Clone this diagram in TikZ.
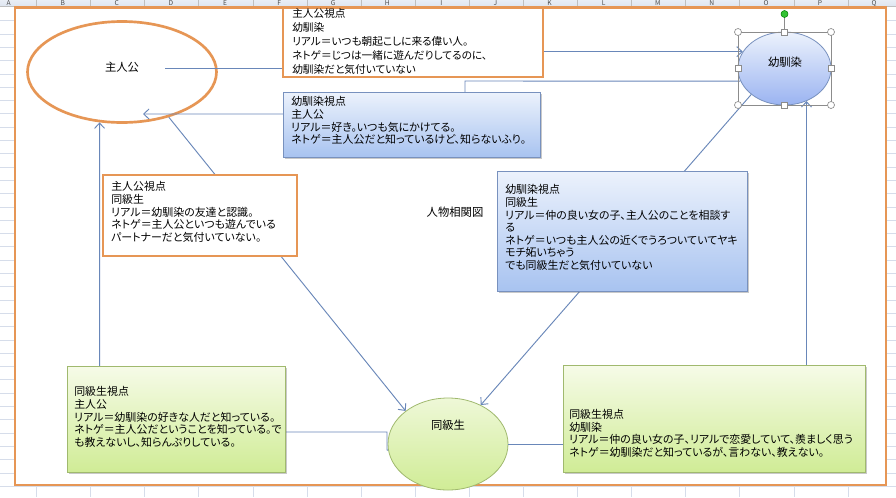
\documentclass[tikz,border=0pt]{standalone}
\usepackage{fontspec}
\setmainfont{Noto Sans CJK JP}[RawFeature=+palt]
\usetikzlibrary{arrows.meta,shadows,shapes.geometric,fit}
\pgfdeclarelayer{gridlayer}
\pgfdeclarelayer{shapelayer}
\pgfdeclarelayer{linelayer}
\pgfsetlayers{gridlayer,shapelayer,linelayer,main}
\definecolor{orng}{RGB}{230,150,85}
\definecolor{conncol}{RGB}{105,135,185}
\definecolor{bluetop}{RGB}{236,242,252}
\definecolor{bluebot}{RGB}{168,195,240}
\definecolor{blueedge}{RGB}{120,145,190}
\definecolor{greentop}{RGB}{246,251,232}
\definecolor{greenbot}{RGB}{208,236,150}
\definecolor{greenedge}{RGB}{160,185,110}
\definecolor{gridc}{RGB}{214,221,234}
\definecolor{hdrtop}{RGB}{246,248,252}
\definecolor{hdrbot}{RGB}{222,229,240}
\newcommand{\jfont}{\fontsize{8.2pt}{9.45pt}\selectfont}
\begin{document}
\begin{tikzpicture}[x=0.75pt,y=-0.75pt,
  orangebox/.style={draw=orng,line width=1.5pt,fill=white,inner sep=0pt},
  bluebox/.style={draw=blueedge,line width=0.6pt,top color=bluetop,bottom color=bluebot,inner sep=0pt,
    drop shadow={shadow xshift=1.2pt,shadow yshift=-1.2pt,opacity=0.35,fill=black!60}},
  greenbox/.style={draw=greenedge,line width=0.6pt,top color=greentop,bottom color=greenbot,inner sep=0pt,
    drop shadow={shadow xshift=1.2pt,shadow yshift=-1.2pt,opacity=0.35,fill=black!60}},
  txt/.style={anchor=north west,align=left,inner sep=0pt,font=\jfont},
  lbl/.style={inner sep=0pt,font=\fontsize{8.5pt}{10pt}\selectfont},
  conn/.style={draw=conncol,line width=0.7pt},
  arr/.style={-{Straight Barb[length=4pt,width=7.5pt]}},
  hdl/.style={draw=black!45,line width=0.5pt,fill=white},
  colhd/.style={inner sep=0pt,anchor=base,font=\fontsize{5pt}{5pt}\selectfont,text=black!70}
]
\useasboundingbox (0,0) rectangle (896,497);
\begin{pgfonlayer}{gridlayer}
  \begin{scope}
  \clip (0,0) rectangle (896,497);
  \fill[white] (0,0) rectangle (896,497);
  \foreach \y in {20.7,34.0,...,497} \draw[gridc,line width=0.5pt] (0,\y) -- (896,\y);
  \foreach \x in {36.5,90.6,...,896} \draw[gridc,line width=0.5pt] (\x,0) -- (\x,497);
  \shade[top color=hdrtop,bottom color=hdrbot] (0,-8) rectangle (896,6.5);
  \draw[black!25,line width=0.5pt] (0,6.5) -- (896,6.5);
  \foreach \x in {36.5,90.6,...,896} \draw[black!25,line width=0.5pt] (\x,-8) -- (\x,6.5);
  \foreach \l [count=\i from 0] in {A,B,C,D,E,F,G,H,I,J,K,L,M,N,O,P,Q}
    \node[colhd] (col\l) at (8.6+54.1*\i,5.6) {\l};
  \end{scope}
  \draw[orng,line width=1.6pt,fill=white] (15,7.5) rectangle (886,485);
\end{pgfonlayer}
% ellipses
\begin{pgfonlayer}{shapelayer}
  \node[ellipse,draw=orng,line width=2pt,fill=white,minimum width=141.75pt,minimum height=75.75pt,inner sep=0pt] (hero) at (122,72) {};
  \node[ellipse,draw=blueedge,line width=0.6pt,top color=bluetop,bottom color=bluebot!92!blue,minimum width=69.75pt,minimum height=54.75pt,inner sep=0pt] (osa) at (784.5,68.5) {};
  \node[ellipse,draw=greenedge,line width=0.6pt,top color=greentop!80!greenbot,bottom color=greenbot,minimum width=90pt,minimum height=69pt,inner sep=0pt] (dk) at (448,444) {};
\end{pgfonlayer}
\node[lbl] (heroT) at (122,67) {主人公};
\node[lbl] (osaT) at (785,62) {幼馴染};
\node[lbl] (dkT) at (448,425) {同級生};
\node[lbl] (title) at (455,212) {人物相関図};
% connectors
\coordinate (a0) at (165,68);
\coordinate (b0) at (143,114);
\begin{pgfonlayer}{linelayer}
  \draw[conn,arr] (a0) -- (410,68) |- (osa.158);
  \draw[conn,arr] (osa.196) -- (465,81) -- (465,114) -- (b0);
  \draw[conn,arr] (hero.-44) -- (dk.142);
  \draw[conn,arr] (dk.186) -- (387,450) -- (387,432) -| (hero.246);
  \draw[conn,arr] (osa.218) -- (dk.50);
  \draw[conn,arr] (dk.east) -| (osa.-56);
\end{pgfonlayer}
% boxes
\node[orangebox,fit={(283,8) (543,77)}] (b1) {};
\node[bluebox,fit={(283,92) (540,157)}] (b2) {};
\node[orangebox,fit={(103,175) (297,256)}] (b3) {};
\node[bluebox,fit={(497,171) (747,291)}] (b5) {};
\node[greenbox,fit={(67,366) (285,472)}] (b6) {};
\node[greenbox,fit={(563,365) (865,472)}] (b7) {};
\node[txt,font=\fontsize{8pt}{10.5pt}\selectfont] (t1) at (292,8.5) {主人公視点\\幼馴染\\リアル＝いつも朝起こしに来る偉い人。\\ネトゲ＝じつは一緒に遊んだりしてるのに、\\幼馴染だと気付いていない};
\node[txt] (t2) at (291,96.5) {幼馴染視点\\主人公\\リアル＝好き。いつも気にかけてる。\\ネトゲ＝主人公だと知っているけど、知らないふり。};
\node[txt] (t3) at (111,181.5) {主人公視点\\同級生\\リアル＝幼馴染の友達と認識。\\ネトゲ＝主人公といつも遊んでいる\\パートナーだと気付いていない。};
\node[txt] (t5) at (505,184.5) {幼馴染視点\\同級生\\リアル＝仲の良い女の子、主人公のことを相談す\\る\\ネトゲ＝いつも主人公の近くでうろついていてヤキ\\モチ妬いちゃう\\でも同級生だと気付いていない};
\node[txt] (t6) at (74,386.5) {同級生視点\\主人公\\リアル＝幼馴染の好きな人だと知っている。\\ネトゲ＝主人公だということを知っている。で\\も教えないし、知らんぷりしている。};
\node[txt] (t7) at (569,409) {同級生視点\\幼馴染\\リアル＝仲の良い女の子、リアルで恋愛していて、羨ましく思う\\ネトゲ＝幼馴染だと知っているが、言わない、教えない。};
% selection handles on 幼馴染
\draw[black!45,line width=0.5pt] (738,32) rectangle (831,105);
\draw[black!45,line width=0.5pt] (784.5,32) -- (784.5,17);
\fill[green!70!black!80,draw=green!50!black] (784.5,14) circle[radius=3.5];
\foreach \px/\py in {738/32,831/32,738/105,831/105} \draw[hdl] (\px,\py) circle[radius=3.5];
\foreach \px/\py in {784.5/32,784.5/105,738/68.5,831/68.5} \draw[hdl] (\px-3,\py-3) rectangle (\px+3,\py+3);
\end{tikzpicture}
\end{document}
